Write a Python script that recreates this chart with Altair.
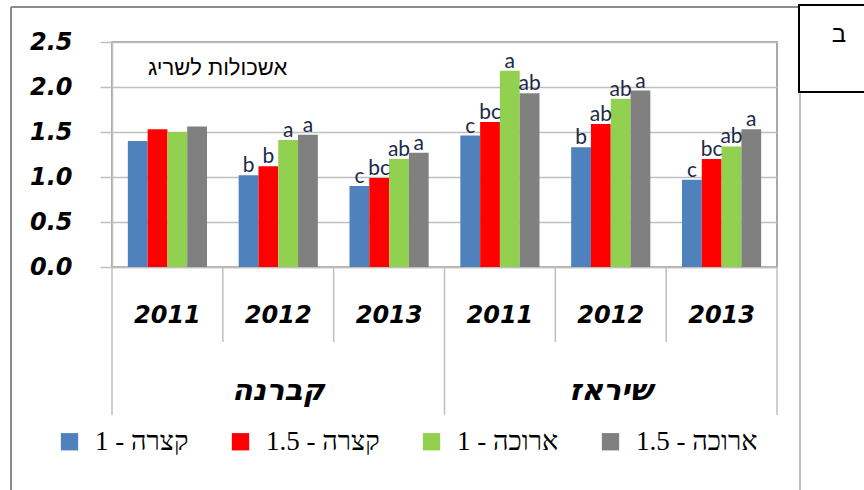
import altair as alt
import pandas as pd

varieties = ["קברנה", "שיראז"]
years = ["2011", "2012", "2013"]
series = ["1 - קצרה", "1.5 - קצרה", "1 - ארוכה", "1.5 - ארוכה"]
colors = ["#4F81BD", "#FF0000", "#92D050", "#808080"]

# order: קברנה 2011, 2012, 2013, שיראז 2011, 2012, 2013
short1 = [1.40, 1.02, 0.90, 1.46, 1.33, 0.97]
short15 = [1.53, 1.12, 0.99, 1.61, 1.59, 1.20]
long1 = [1.50, 1.41, 1.20, 2.18, 1.87, 1.34]
long15 = [1.56, 1.47, 1.27, 1.93, 1.96, 1.53]

short1_l = ["", "b", "c", "c", "b", "c"]
short15_l = ["", "b", "bc", "bc", "ab", "bc"]
long1_l = ["", "a", "ab", "a", "ab", "ab"]
long15_l = ["", "a", "a", "ab", "a", "a"]

y_ticks = [0, 0.5, 1.0, 1.5, 2.0, 2.5]
panel_title = "אשכולות לשריג"
corner_letter = "ב"

groups = [f"{v}|{y}" for v in varieties for y in years]
vals = [short1, short15, long1, long15]
lets = [short1_l, short15_l, long1_l, long15_l]

rows = []
for si, s in enumerate(series):
    for gi, g in enumerate(groups):
        rows.append({"grp": g, "series": s, "value": vals[si][gi], "letter": lets[si][gi]})
df = pd.DataFrame(rows)

W, H = 665, 225

xscale = alt.Scale(domain=groups, paddingInner=0, paddingOuter=0)
xoff_scale = alt.Scale(domain=series, paddingInner=0, paddingOuter=0.8)
yscale = alt.Scale(domain=[0, 2.5], nice=False)

x_axis = alt.Axis(
    title=None, labelExpr="split(datum.label, '|')[1]", ticks=False, labelAngle=0,
    labelFont="DejaVu Sans", labelFontSize=24, labelFontWeight="bold", labelFontStyle="italic",
    labelColor="black", labelPadding=36, domainColor="#bfbfbf", domainWidth=1.5,
)
y_axis = alt.Axis(
    title=None, values=y_ticks, format=".1f", tickSize=12, tickColor="#bfbfbf", tickWidth=1.5,
    gridColor="#bfbfbf", gridWidth=1.5, domainColor="#bfbfbf", domainWidth=1.5,
    labelFont="DejaVu Sans", labelFontSize=24, labelFontWeight="bold", labelFontStyle="italic",
    labelColor="black", labelPadding=28,
)

bars = alt.Chart(df).mark_bar().encode(
    x=alt.X("grp:N", scale=xscale, axis=x_axis, sort=groups),
    xOffset=alt.XOffset("series:N", scale=xoff_scale, sort=series),
    y=alt.Y("value:Q", scale=yscale, axis=y_axis),
    color=alt.Color(
        "series:N", sort=series, scale=alt.Scale(domain=series, range=colors),
        legend=alt.Legend(
            title=None, orient="none", legendX=-56, legendY=386, direction="horizontal",
            symbolType="square", symbolSize=300, symbolStrokeWidth=0, symbolOpacity=1,
            labelFont="Liberation Serif", labelFontSize=27, labelColor="black",
            labelOffset=12, columnPadding=38, padding=0, labelLimit=300,
        ),
    ),
)

letters = alt.Chart(df).mark_text(
    font="Lato", fontSize=21, color="#1c2a48", baseline="alphabetic", dy=-3
).encode(
    x=alt.X("grp:N", sort=groups),
    xOffset=alt.XOffset("series:N", sort=series),
    y=alt.Y("value:Q"),
    text="letter:N",
)

sep_df = pd.DataFrame({"grp": groups, "idx": list(range(len(groups)))})
short_sep = alt.Chart(sep_df).transform_filter("datum.idx % 3 != 0").mark_rule(
    color="#bfbfbf", strokeWidth=1.5
).encode(x=alt.X("grp:N", bandPosition=0, sort=groups), y=alt.value(H), y2=alt.value(H + 75))
long_sep = alt.Chart(sep_df).transform_filter("datum.idx % 3 == 0").mark_rule(
    color="#bfbfbf", strokeWidth=1.5
).encode(x=alt.X("grp:N", bandPosition=0, sort=groups), y=alt.value(H), y2=alt.value(H + 148))
end_sep = alt.Chart(sep_df).transform_filter(f"datum.idx == {len(groups) - 1}").mark_rule(
    color="#bfbfbf", strokeWidth=1.5
).encode(x=alt.X("grp:N", bandPosition=1, sort=groups), y=alt.value(H), y2=alt.value(H + 148))

var_df = pd.DataFrame({"grp": [f"{v}|{years[1]}" for v in varieties], "name": varieties})
var_text = alt.Chart(var_df).mark_text(
    font="DejaVu Sans", fontSize=30, fontWeight="bold", fontStyle="italic", color="black",
    baseline="middle",
).encode(x=alt.X("grp:N", sort=groups), y=alt.value(349), text="name:N")

one = pd.DataFrame({"d": [0]})
title_t = alt.Chart(one).mark_text(
    font="Liberation Sans", fontSize=22, align="left", baseline="middle", color="black"
).encode(x=alt.value(36), y=alt.value(26), text=alt.value(panel_title))

frame_left = alt.Chart(one).mark_rule(color="#8c8c8c", strokeWidth=2).encode(
    x=alt.value(-101), y=alt.value(-35), y2=alt.value(460))
frame_top = alt.Chart(one).mark_rule(color="#8c8c8c", strokeWidth=2).encode(
    x=alt.value(-101), x2=alt.value(688), y=alt.value(-35))
frame_right = alt.Chart(one).mark_rule(color="#bfbfbf", strokeWidth=2).encode(
    x=alt.value(688), y=alt.value(50), y2=alt.value(460))
box = alt.Chart(one).mark_rect(fill="white", stroke="black", strokeWidth=2).encode(
    x=alt.value(687), x2=alt.value(800), y=alt.value(-37), y2=alt.value(50))
box_t = alt.Chart(one).mark_text(
    font="Liberation Sans", fontSize=24, color="black", baseline="middle", align="center"
).encode(x=alt.value(727), y=alt.value(-7), text=alt.value(corner_letter))

chart = alt.layer(
    bars, letters, short_sep, long_sep, end_sep, var_text, title_t,
    frame_left, frame_top, frame_right, box, box_t,
).properties(
    width=W, height=H,
    autosize=alt.AutoSizeParams(type="none"),
    padding={"left": 112, "top": 42, "right": 87, "bottom": 223},
).configure_view(stroke="#8c8c8c", strokeWidth=1.5)

chart.save("out.html", embed_options={"renderer": "svg", "actions": False})
